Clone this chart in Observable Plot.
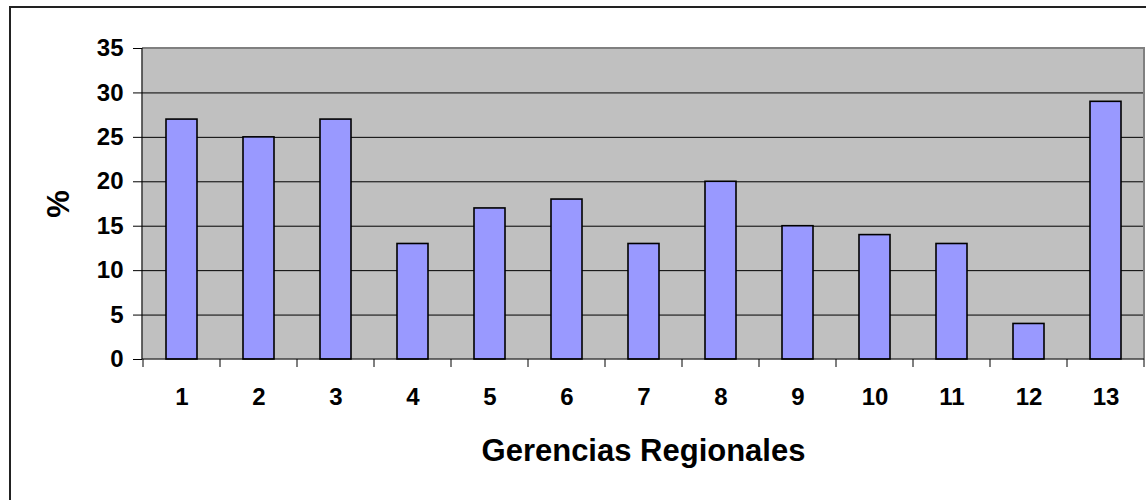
<!DOCTYPE html>
<html><head><meta charset="utf-8">
<script src="https://cdn.jsdelivr.net/npm/d3@7"></script>
<script src="https://cdn.jsdelivr.net/npm/@observablehq/plot@0.6"></script>
<style>
html,body{margin:0;padding:0;background:#fff;overflow:hidden;}
#chart{position:relative;width:1146px;height:500px;overflow:hidden;}
#border{position:absolute;left:9px;top:6px;width:2000px;height:2000px;border-left:2px solid #222;border-top:2px solid #222;pointer-events:none;}
#chart svg{position:absolute;left:0;top:0;}
</style></head><body>
<div id="chart"><div id="border"></div></div>
<script>
const categories = ["1","2","3","4","5","6","7","8","9","10","11","12","13"];
const values = [27,25,27,13,17,18,13,20,15,14,13,4,29];
const yTicks = [0,5,10,15,20,25,30,35];
const xTitle = "Gerencias Regionales";
const yTitle = "%";
const data = categories.map((c,i)=>({c, v: values[i]}));

// frame edges + category boundary ticks (derived from the band scale)
const axisDecor = (index, scales, values, dim) => {
  const x = scales.x;
  const left = dim.marginLeft, right = dim.width - dim.marginRight;
  const top = dim.marginTop, bottom = dim.height - dim.marginBottom;
  const step = x.step ? x.step() : (x(categories[1]) - x(categories[0]));
  const bw = x.bandwidth ? x.bandwidth() : step * 0.4;
  const g = d3.create("svg:g");
  g.append("path").attr("d", `M${left},${top}H${right}V${bottom}`)
    .attr("fill","none").attr("stroke","#808080").attr("stroke-width",2);
  g.append("path").attr("d", `M${left},${top}V${bottom}H${right}`)
    .attr("fill","none").attr("stroke","#000").attr("stroke-width",1.2);
  const bounds = categories.map(c => x(c) + bw/2 - step/2);
  bounds.push(x(categories[categories.length-1]) + bw/2 + step/2);
  for (const b of bounds) {
    g.append("line").attr("x1", b).attr("x2", b).attr("y1", bottom).attr("y2", bottom + 8)
      .attr("stroke","#000").attr("stroke-width",1);
  }
  return g.node();
};

const chart = Plot.plot({
  width: 1146, height: 500,
  marginLeft: 142, marginRight: 2, marginTop: 48, marginBottom: 141,
  style: {fontFamily: "'Liberation Sans', Arial, sans-serif", fontWeight: "bold", fontSize: "24px", color: "#000", background: "transparent", overflow: "visible"},
  x: {domain: categories, paddingInner: 0.6, paddingOuter: 0.3, align: 0.5, label: null, axis: null},
  y: {domain: [0, 35], label: null},
  marks: [
    Plot.frame({fill: "#c0c0c0", stroke: "none"}),
    Plot.ruleY(yTicks.filter(t => t > 0 && t < 35), {stroke: "#000", strokeWidth: 1}),
    Plot.barY(data, {x: "c", y: "v", fill: "#9999ff", stroke: "#000", strokeWidth: 1.6}),
    axisDecor,
    Plot.axisY({ticks: yTicks, tickSize: 9, tickPadding: 10, tickFormat: d => String(d), label: null, stroke: "#000", fontSize: 24}),
    Plot.text(data, {x: "c", text: "c", frameAnchor: "bottom", lineAnchor: "middle", dy: 38, fontSize: 24, fontWeight: "bold", fill: "#000"}),
    Plot.text([xTitle], {text: d => d, frameAnchor: "bottom", lineAnchor: "middle", textAnchor: "middle", dy: 92, fontSize: 31, fontWeight: "bold", fill: "#000"}),
    Plot.text([yTitle], {text: d => d, frameAnchor: "left", lineAnchor: "middle", textAnchor: "middle", dx: -83, rotate: -90, fontSize: 31, fontWeight: "bold", fill: "#000"})
  ]
});
document.getElementById("chart").appendChild(chart);
</script>
</body></html>
